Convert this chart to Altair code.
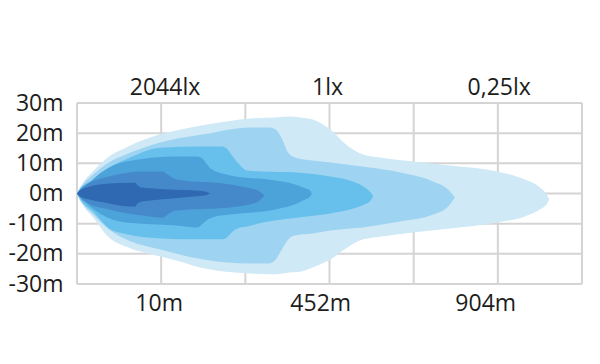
import altair as alt
import pandas as pd

# ---------------- data ----------------
GRID_X = [0, 1, 2, 3, 4, 5, 6]
GRID_Y = [30, 20, 10, 0, -10, -20, -30]

BOTTOM_LABELS = ["10m", "452m", "904m"]
BOTTOM_POS = [0.97, 2.89, 4.85]
TOP_LABELS = ["2044lx", "1lx", "0,25lx"]
TOP_POS = [1.04, 2.97, 5.01]

# isolux layers, outermost (lowest lux) first: x (grid units), upper / lower edge (m)
L1_X = [0, 0.03, 0.07, 0.19, 0.38, 0.58, 0.99, 1.18, 1.46, 1.77, 2.06, 2.36, 2.53, 2.65, 2.80, 3.01, 3.21, 3.40, 3.60, 3.99, 4.43, 4.99, 5.32, 5.50, 5.58, 5.61]
L1_UP = [0, 1.8, 3.6, 7.4, 12.3, 15.2, 19.6, 20.9, 22.5, 23.9, 24.9, 25.2, 25.5, 25.2, 24.5, 21.2, 15.9, 12.9, 11.9, 10.6, 9.3, 7.3, 4.6, 2.0, -0.3, -2.0]
L1_LO = [0, -2.0, -3.9, -7.9, -14.6, -17.6, -20.9, -22.2, -24.5, -25.9, -26.5, -26.8, -26.2, -25.9, -24.5, -21.9, -17.9, -15.2, -14.3, -12.9, -11.6, -9.6, -7.6, -5.3, -3.6, -2.0]

L2_X = [0, 0.03, 0.07, 0.19, 0.38, 0.58, 0.99, 1.50, 2.06, 2.29, 2.36, 2.44, 2.50, 2.59, 2.80, 3.01, 3.48, 3.84, 4.23, 4.41, 4.49]
L2_UP = [0, 1.5, 3.0, 6.3, 10.3, 12.9, 16.9, 19.6, 21.9, 21.9, 21.2, 17.9, 13.9, 11.9, 10.9, 10.3, 8.6, 7.0, 4.0, 1.3, -1.3]
L2_LO = [0, -1.7, -3.5, -6.9, -11.9, -15.2, -18.6, -21.9, -23.2, -23.2, -21.9, -18.2, -15.6, -13.9, -13.3, -12.3, -10.9, -9.3, -7.0, -4.3, -1.3]

L3_X = [0, 0.03, 0.19, 0.38, 0.55, 0.99, 1.46, 1.73, 1.79, 1.85, 1.94, 2.02, 2.21, 2.61, 3.01, 3.24, 3.42, 3.49, 3.52]
L3_UP = [0, 1.3, 4.6, 8.6, 10.9, 15.2, 15.6, 15.6, 14.6, 12.3, 9.3, 7.6, 7.3, 7.0, 5.6, 4.3, 2.0, 0.3, -1.0]
L3_LO = [0, -1.6, -6.0, -11.6, -13.3, -14.9, -15.2, -15.2, -14.3, -12.6, -11.3, -10.9, -9.6, -8.0, -6.6, -5.3, -3.6, -2.3, -1.0]

L4_X = [0, 0.03, 0.10, 0.27, 0.58, 1.18, 1.43, 1.50, 1.54, 1.60, 1.82, 2.36, 2.59, 2.71, 2.77, 2.79]
L4_UP = [0, 1.0, 2.4, 6.6, 10.6, 12.3, 12.3, 11.3, 9.9, 8.0, 6.0, 4.3, 3.0, 1.7, 1.0, 0]
L4_LO = [0, -1.2, -3.0, -6.6, -9.6, -10.6, -11.3, -9.9, -8.9, -8.0, -7.0, -5.3, -3.6, -2.0, -1.0, 0]

L5_X = [0, 0.03, 0.10, 0.38, 0.78, 1.02, 1.06, 1.11, 1.18, 1.82, 2.06, 2.17, 2.23]
L5_UP = [0, 1.0, 2.7, 5.6, 7.3, 7.3, 6.6, 5.6, 4.6, 3.0, 1.7, 0.7, -0.7]
L5_LO = [0, -1.0, -2.7, -5.3, -7.3, -8.0, -7.3, -6.3, -5.6, -4.6, -3.6, -2.3, -0.7]

L6_X = [0, 0.03, 0.15, 0.38, 0.63, 0.69, 0.72, 0.76, 0.87, 1.10, 1.40, 1.52, 1.58]
L6_UP = [0, 0.9, 2.3, 3.3, 3.6, 3.6, 2.7, 2.0, 1.7, 1.3, 1.0, 0.7, 0]
L6_LO = [0, -0.9, -2.0, -3.3, -4.3, -4.3, -3.3, -2.7, -2.3, -1.7, -1.0, -0.7, 0]

LAYERS = [
    (L1_X, L1_UP, L1_LO, "#d0e9f6"),
    (L2_X, L2_UP, L2_LO, "#9ed4f1"),
    (L3_X, L3_UP, L3_LO, "#67c0ec"),
    (L4_X, L4_UP, L4_LO, "#4ba3da"),
    (L5_X, L5_UP, L5_LO, "#4689ca"),
    (L6_X, L6_UP, L6_LO, "#2f69b1"),
]

# ---------------- styles ----------------
FONT = "Open Sans"
FS = 23
TXT = "#1d1d1b"
GRID = "#d4d4d4"

X_SCALE = alt.Scale(domain=[0, 6], nice=False, zero=False)
Y_SCALE = alt.Scale(domain=[-30, 30], nice=False, zero=False)


def label_expr(pos, labels):
    expr = "''"
    for p, l in reversed(list(zip(pos, labels))):
        expr = f"datum.value == {p} ? '{l}' : ({expr})"
    return expr


def axis(**kw):
    return alt.Axis(title=None, grid=False, ticks=False, domain=False,
                    labelFont=FONT, labelFontSize=FS, labelColor=TXT, **kw)


vrules = alt.Chart(pd.DataFrame({"gx": GRID_X})).mark_rule(color=GRID, strokeWidth=2).encode(
    x=alt.X("gx:Q", scale=X_SCALE,
            axis=axis(orient="top", values=TOP_POS, labelExpr=label_expr(TOP_POS, TOP_LABELS),
                      labelPadding=4))
)

hrules = alt.Chart(pd.DataFrame({"gy": GRID_Y})).mark_rule(color=GRID, strokeWidth=2).encode(
    y=alt.Y("gy:Q", scale=Y_SCALE,
            axis=axis(orient="left", values=GRID_Y, labelExpr="datum.value + 'm'",
                      labelPadding=14))
)

areas = []
for i, (xs, up, lo, col) in enumerate(LAYERS):
    df = pd.DataFrame({"x": xs, "up": up, "lo": lo})
    xax = axis(orient="bottom", values=BOTTOM_POS,
               labelExpr=label_expr(BOTTOM_POS, BOTTOM_LABELS), labelPadding=8) if i == 0 else None
    areas.append(
        alt.Chart(df).mark_area(color=col, interpolate="monotone", opacity=1).encode(
            x=alt.X("x:Q", scale=X_SCALE, axis=xax),
            y=alt.Y("up:Q", scale=Y_SCALE, axis=None, stack=None),
            y2="lo:Q",
        )
    )

chart = alt.layer(vrules, hrules, *areas).resolve_axis(x="independent", y="independent").properties(
    width=505,
    height=181,
    autosize=alt.AutoSizeParams(type="none"),
    padding={"left": 69, "top": 95, "right": 10, "bottom": 60},
).configure_view(stroke=None)

chart.save("out.html", embed_options={"renderer": "svg", "actions": False})
